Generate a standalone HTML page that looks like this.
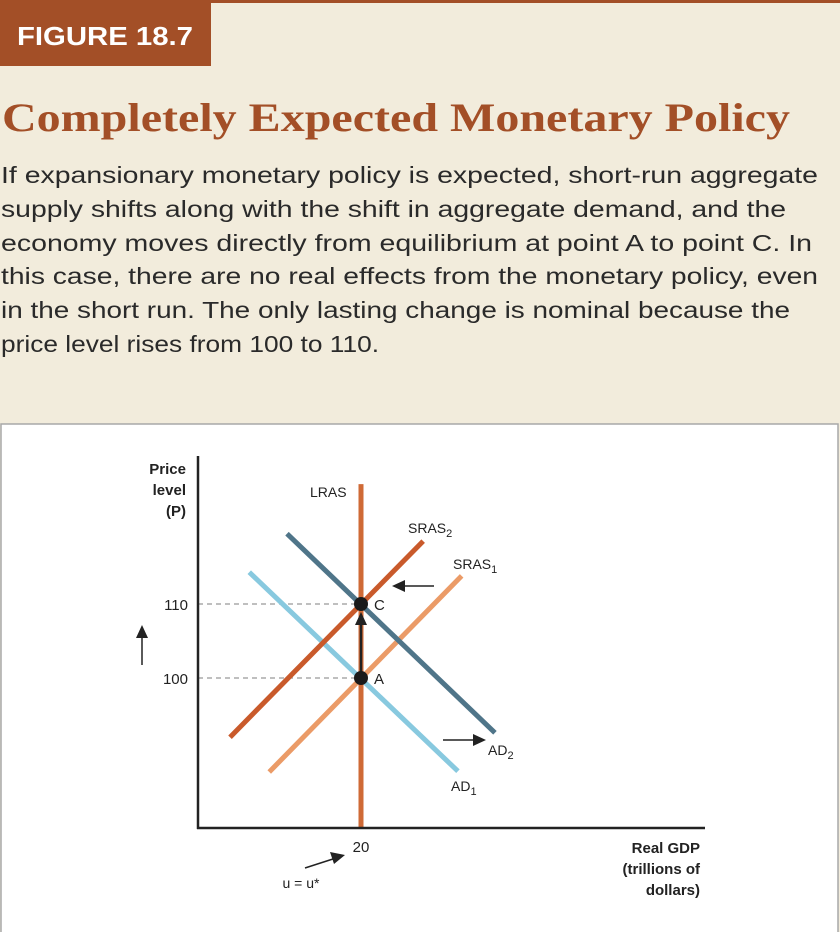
<!DOCTYPE html>
<html><head><meta charset="utf-8"><style>
html,body{margin:0;padding:0;background:#f2ecdc;}
svg{display:block;font-family:"Liberation Sans",sans-serif;}
</style></head><body>
<svg id="fig" width="840" height="932" viewBox="0 0 840 932">
<rect x="0" y="0" width="840" height="932" fill="#f2ecdc"/>
<rect x="0" y="0" width="840" height="3" fill="#a34f27"/>
<rect x="0" y="0" width="211" height="66" fill="#a34f27"/>
<text x="17" y="45" fill="#fff" font-size="26" font-weight="bold" textLength="176" lengthAdjust="spacingAndGlyphs">FIGURE 18.7</text>
<text x="2" y="131" fill="#a34f27" font-family="Liberation Serif,serif" font-size="40" font-weight="bold" textLength="788" lengthAdjust="spacingAndGlyphs">Completely Expected Monetary Policy</text>
<g fill="#2a2a2a" font-size="23">
<text x="1" y="183" textLength="817" lengthAdjust="spacingAndGlyphs">If expansionary monetary policy is expected, short-run aggregate</text>
<text x="1" y="217" textLength="785" lengthAdjust="spacingAndGlyphs">supply shifts along with the shift in aggregate demand, and the</text>
<text x="1" y="251" textLength="811" lengthAdjust="spacingAndGlyphs">economy moves directly from equilibrium at point A to point C. In</text>
<text x="1" y="284" textLength="817" lengthAdjust="spacingAndGlyphs">this case, there are no real effects from the monetary policy, even</text>
<text x="1" y="318" textLength="789" lengthAdjust="spacingAndGlyphs">in the short run. The only lasting change is nominal because the</text>
<text x="1" y="352" textLength="378" lengthAdjust="spacingAndGlyphs">price level rises from 100 to 110.</text>
</g>
<rect x="1" y="424" width="837" height="510" fill="#fff" stroke="#a8a8a8" stroke-width="1.5"/>
<g id="plot"></g>
</svg>
<script>
// Data (x: real GDP in data units, P: price level)
const lrasX = [20];
const lrasP = [79.7, 126.2];
const sras1X = [7.6, 33.6];
const sras1P = [87.3, 113.8];
const sras2X = [2.3, 28.4];
const sras2P = [92.0, 118.5];
const ad1X = [4.9, 33.1];
const ad1P = [114.3, 87.4];
const ad2X = [10.0, 38.1];
const ad2P = [119.5, 92.6];
const yTicks = [100, 110];
const xTicks = [20];
const pointLabels = ["A", "C"];
const pointP = [100, 110];

const NS = "http://www.w3.org/2000/svg";
const g = document.getElementById("plot");
function sx(v){ return 361 + (v - 20) * 7.4; }
function sy(v){ return 678 - (v - 100) * 7.4; }
function mk(tag, attrs){ const e = document.createElementNS(NS, tag); for (const k in attrs) e.setAttribute(k, attrs[k]); g.appendChild(e); return e; }
function txt(x,y,s,size,anchor,weight){ const t = mk("text",{x:x,y:y,"font-size":size,"text-anchor":anchor||"start",fill:"#222"}); if(weight) t.setAttribute("font-weight",weight); t.textContent=s; return t; }
function arrowHead(x,y,dir){ // dir: r,l,u
  let pts;
  if(dir==="r") pts=`${x},${y} ${x-13},${y-6} ${x-13},${y+6}`;
  else if(dir==="l") pts=`${x},${y} ${x+13},${y-6} ${x+13},${y+6}`;
  else pts=`${x},${y} ${x-6},${y+13} ${x+6},${y+13}`;
  return mk("polygon",{points:pts,fill:"#222"});
}

// dashed guides
yTicks.forEach((p,i)=>{
  const d = mk("line",{x1:198,y1:sy(p),x2:sx(20),y2:sy(p),stroke:"#999","stroke-dasharray":"5,4","stroke-width":1.2});
  
  
  const t = txt(188, sy(p)+6, String(p), 15, "end");
  
  
});

function line(xs, ps, color, name){
  const l = mk("line",{x1:sx(xs[0]),y1:sy(ps[0]),x2:sx(xs[1]),y2:sy(ps[1]),stroke:color,"stroke-width":5});
  
  
}
line(sras1X, sras1P, "#eb9b67", "sras1-line");
line(ad1X, ad1P, "#88c9df", "ad1-line");
line(sras2X, sras2P, "#c95a2b", "sras2-line");
line(ad2X, ad2P, "#4f7589", "ad2-line");
const lr = mk("line",{x1:sx(lrasX[0]),y1:sy(lrasP[1]),x2:sx(lrasX[0]),y2:sy(lrasP[0]),stroke:"#cf6a36","stroke-width":5});



// axes
const ya = mk("line",{x1:198,y1:456,x2:198,y2:829,stroke:"#222","stroke-width":2.5});


const xa = mk("line",{x1:197,y1:828,x2:705,y2:828,stroke:"#222","stroke-width":2.5});



// movement arrow A->C
const mv = mk("line",{x1:sx(20),y1:sy(100),x2:sx(20),y2:sy(110)+14,stroke:"#222","stroke-width":2.5});


arrowHead(sx(20), sy(110)+8, "u");

// points
pointP.forEach((p,i)=>{
  const c = mk("circle",{cx:sx(20),cy:sy(p),r:7,fill:"#1a1a1a"});
  
  
  const t = txt(sx(20)+13, sy(p)+6, pointLabels[i], 15);
  
  
});

// x tick
xTicks.forEach(v=>{
  const t = txt(sx(v), 852, String(v), 15, "middle");
  
  
});

// labels
function lbl(x,y,s,sub,name){
  const t = txt(x,y,s,14);
  if(sub){ const ts=document.createElementNS(NS,"tspan"); ts.setAttribute("font-size","11"); ts.setAttribute("dy","4"); ts.textContent=sub; t.appendChild(ts); }
  
  
}
lbl(310, 497, "LRAS", null, "lras-label");
lbl(408, 533, "SRAS", "2", "sras2-label");
lbl(453, 569, "SRAS", "1", "sras1-label");
lbl(488, 755, "AD", "2", "ad2-label");
lbl(451, 791, "AD", "1", "ad1-label");

// shift arrows
const a1 = mk("line",{x1:434,y1:586,x2:400,y2:586,stroke:"#222","stroke-width":1.5});


arrowHead(392,586,"l");
const a2 = mk("line",{x1:443,y1:740,x2:478,y2:740,stroke:"#222","stroke-width":1.5});


arrowHead(486,740,"r");
const a3 = mk("line",{x1:142,y1:665,x2:142,y2:634,stroke:"#222","stroke-width":1.5});


arrowHead(142,625,"u");
const a4 = mk("line",{x1:305,y1:868,x2:336,y2:858,stroke:"#222","stroke-width":1.5});


mk("polygon",{points:"345,855 330,852 334,864",fill:"#222"});
const ut = txt(301, 888, "u = u*", 14, "middle");



// axis titles
[["Price",474],["level",495],["(P)",516]].forEach((r,i)=>{
  const t = txt(186, r[1], r[0], 15, "end", "bold");
  
  
});
[["Real GDP",853],["(trillions of",874],["dollars)",895]].forEach((r,i)=>{
  const t = txt(700, r[1], r[0], 15, "end", "bold");
  
  
});
</script>
</body></html>
